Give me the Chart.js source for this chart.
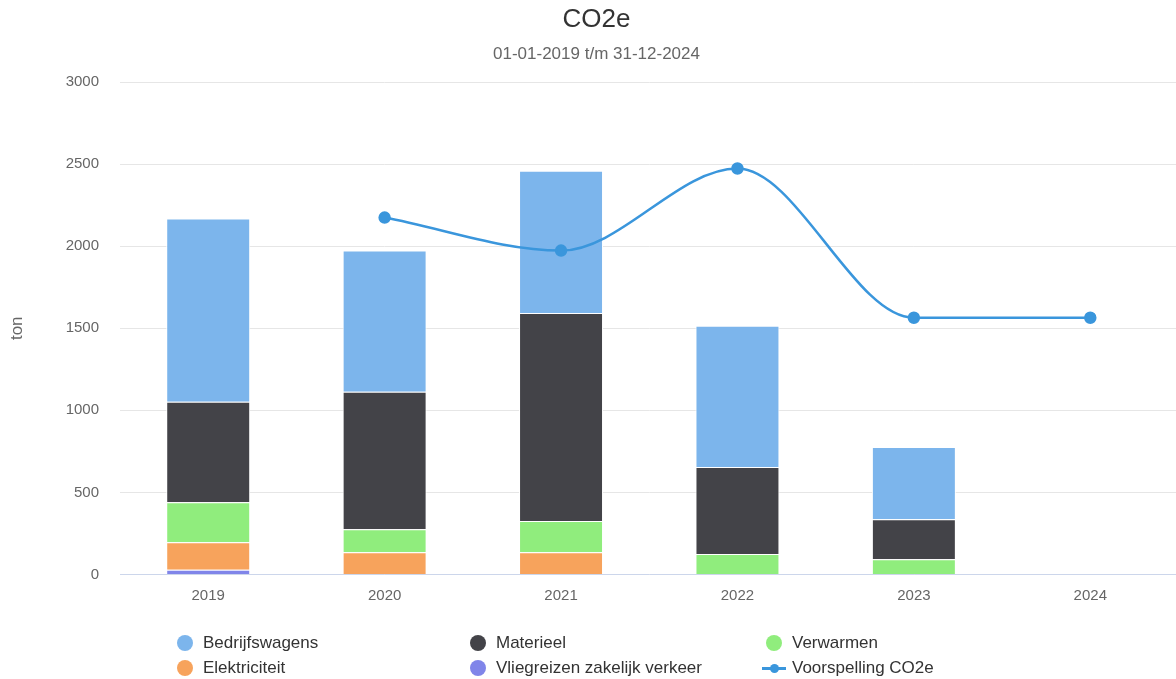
<!DOCTYPE html>
<html>
<head>
<meta charset="utf-8">
<script src="https://cdn.jsdelivr.net/npm/chart.js@4"></script>
<style>
  html,body{margin:0;padding:0;background:#fff;overflow:hidden;}
  #wrap{position:relative;width:1176px;height:679px;overflow:hidden;font-family:"Liberation Sans",Arial,sans-serif;}
  #c{position:absolute;left:0;top:0;}
  #legend{position:absolute;left:0;top:630px;width:1176px;height:50px;}
  .li{position:absolute;font-size:17px;color:#333;white-space:nowrap;line-height:20px;}
  .sym{position:absolute;}
</style>
</head>
<body>
<div id="wrap">
  <canvas id="c" width="1186" height="679"></canvas>
  <div id="legend"></div>
</div>
<script>
const categories = ['2019','2020','2021','2022','2023','2024'];
const vliegreizen    = [29, 0, 0, 0, 0, 0];
const elektriciteit  = [167, 135, 135, 0, 0, 0];
const verwarmen      = [244, 141, 191, 125, 93, 0];
const materieel      = [612, 837, 1267, 530, 244, 0];
const bedrijfswagens = [1116, 860, 867, 860, 440, 0];
const voorspelling   = [null, 2174, 1973, 2473, 1564, 1564];
const yTicks = [0, 500, 1000, 1500, 2000, 2500, 3000];

const colors = {
  bedrijfswagens:'#7cb5ec', materieel:'#434348', verwarmen:'#90ed7d',
  elektriciteit:'#f7a35c', vliegreizen:'#8085e9', line:'#3a96dc'
};
const FONT = '"Liberation Sans", Arial, sans-serif';

function bar(label, data, color){
  return {type:'bar', label, data, backgroundColor:color, borderColor:'#ffffff',
    borderWidth:1, stack:'s', order:1, categoryPercentage:1, barPercentage:0.476};
}

const datasets = [
  bar('Vliegreizen zakelijk verkeer', vliegreizen, colors.vliegreizen),
  bar('Elektriciteit', elektriciteit, colors.elektriciteit),
  bar('Verwarmen', verwarmen, colors.verwarmen),
  bar('Materieel', materieel, colors.materieel),
  bar('Bedrijfswagens', bedrijfswagens, colors.bedrijfswagens),
  {type:'line', label:'Voorspelling CO2e', data:voorspelling, stack:'line', order:0,
   borderColor:colors.line, backgroundColor:colors.line, borderWidth:2.5,
   pointRadius:5, pointHoverRadius:5, tension:0.4, cubicInterpolationMode:'monotone',
   spanGaps:false}
];

const chart = new Chart(document.getElementById('c'), {
  data:{labels:categories, datasets},
  options:{
    responsive:false, animation:false,
    layout:{padding:{left:7, right:0, top:4, bottom:61.5}},
    plugins:{
      legend:{display:false},
      tooltip:{enabled:false},
      title:{display:true, text:'CO2e', color:'#333333',
        font:{family:FONT, size:26, weight:'normal'},
        padding:{top:0, bottom:8.6}},
      subtitle:{display:true, text:'01-01-2019 t/m 31-12-2024', color:'#666666',
        font:{family:FONT, size:17, weight:'normal'},
        padding:{top:0, bottom:17.8}}
    },
    scales:{
      x:{stacked:true,
        grid:{display:false, drawTicks:false},
        border:{color:'#ccd6eb', width:1},
        ticks:{color:'#666666', padding:12.5,
          font:{family:FONT, size:15}}},
      y:{stacked:true, min:0, max:3000,
        afterBuildTicks:(s)=>{ s.ticks = yTicks.map(v=>({value:v})); },
        afterFit:(s)=>{ s.width = 113; },
        grid:{color:'#e6e6e6', drawTicks:false},
        border:{display:false},
        title:{display:true, text:'ton', color:'#666666', padding:{top:0,bottom:0},
          font:{family:FONT, size:17}},
        ticks:{color:'#666666', padding:21, callback:(v)=>String(v),
          font:{family:FONT, size:15}}}
    }
  }
});

// HTML legend built from the chart datasets
const legendOrder = [
  ['Bedrijfswagens', 0, 0], ['Materieel', 1, 0], ['Verwarmen', 2, 0],
  ['Elektriciteit', 0, 1], ['Vliegreizen zakelijk verkeer', 1, 1], ['Voorspelling CO2e', 2, 1]
];
const colX = [185, 478, 774];
const rowY = [13, 38];
const leg = document.getElementById('legend');
legendOrder.forEach(([label, col, row])=>{
  const ds = chart.data.datasets.find(d=>d.label===label);
  const cx = colX[col], cy = rowY[row];
  const sym = document.createElement('div');
  sym.className='sym';
  if(ds.type==='line'){
    sym.style.cssText=`left:${cx-12}px;top:${cy-1.5}px;width:24px;height:3px;background:${ds.borderColor};`;
    const dot=document.createElement('div');
    dot.className='sym';
    dot.style.cssText=`left:${cx-4.5}px;top:${cy-4.5}px;width:9px;height:9px;border-radius:50%;background:${ds.borderColor};`;
    leg.appendChild(sym);
    leg.appendChild(dot);
  } else {
    sym.style.cssText=`left:${cx-8}px;top:${cy-8}px;width:16px;height:16px;border-radius:50%;background:${ds.backgroundColor};`;
    leg.appendChild(sym);
  }
  const t=document.createElement('div');
  t.className='li'; t.textContent=label;
  t.style.left=(cx+18)+'px'; t.style.top=(cy-10)+'px';
  leg.appendChild(t);
});
</script>
</body>
</html>
